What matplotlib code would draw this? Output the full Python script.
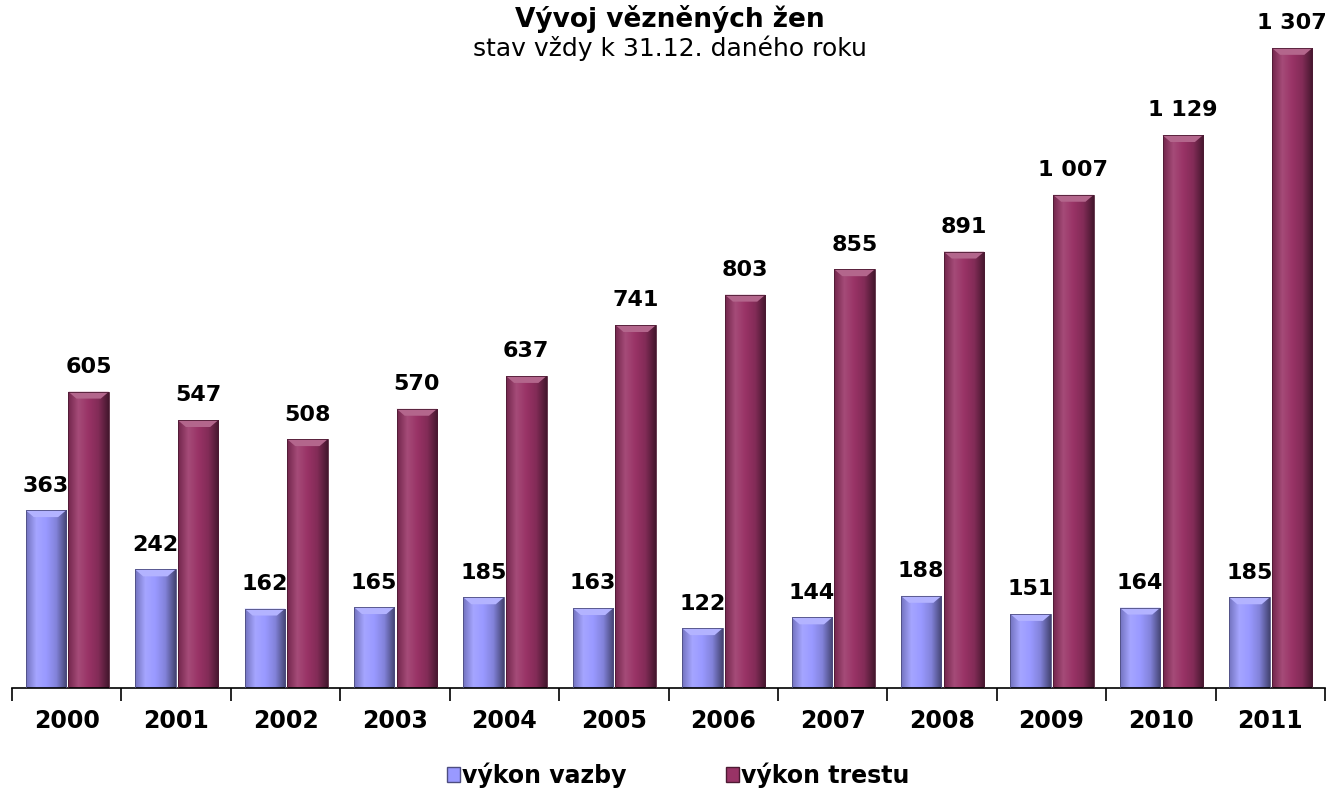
import numpy as np
import matplotlib.pyplot as plt
from matplotlib.colors import LinearSegmentedColormap, to_rgb
from matplotlib.patches import Rectangle

# data
roky = ['2000', '2001', '2002', '2003', '2004', '2005',
        '2006', '2007', '2008', '2009', '2010', '2011']
vazba = [363, 242, 162, 165, 185, 163, 122, 144, 188, 151, 164, 185]
trest = [605, 547, 508, 570, 637, 741, 803, 855, 891, 1007, 1129, 1307]

modra = '#9999ff'
vinova = '#993366'


def shade(c, f):
    r = np.array(to_rgb(c))
    if f > 1:
        return tuple(r + (1 - r) * (f - 1))
    return tuple(r * f)


def glossy_bar(ax, x0, w, h, color):
    # horizontal gradient to fake the excel 3d look
    cmap = LinearSegmentedColormap.from_list(
        'g', [shade(color, 0.75), shade(color, 1.12), color,
              shade(color, 0.85), shade(color, 0.45)])
    grad = np.linspace(0, 1, 64).reshape(1, -1)
    im = ax.imshow(grad, cmap=cmap, aspect='auto',
                   extent=(x0, x0 + w, 0, h), zorder=2)
    clip = Rectangle((x0, 0), w, h, transform=ax.transData)
    im.set_clip_path(clip)
    # light bevel on top
    ax.fill([x0, x0 + w, x0 + w * 0.8, x0 + w * 0.2],
            [h, h, h - 14, h - 14],
            color=shade(color, 1.25), zorder=3, lw=0)
    ax.add_patch(Rectangle((x0, 0), w, h, fill=False,
                           ec=shade(color, 0.5), lw=0.6, zorder=4))


def fmt(v):
    return f'{v:,}'.replace(',', ' ')


fig = plt.figure(figsize=(13.35, 8), dpi=100)
ax = fig.add_axes([0.009, 0.14, 0.9835, 0.86])

x = np.arange(len(roky))
bw = 0.37
for i in x:
    glossy_bar(ax, i - bw - 0.005, bw, vazba[i], modra)
    glossy_bar(ax, i + 0.015, bw, trest[i], vinova)
    ax.text(i - bw / 2 - 0.005, vazba[i] + 30, fmt(vazba[i]),
            ha='center', va='bottom', fontsize=16, fontweight='bold')
    ax.text(i + 0.015 + bw / 2, trest[i] + 30, fmt(trest[i]),
            ha='center', va='bottom', fontsize=16, fontweight='bold')

ax.set_xlim(-0.5, len(roky) - 0.5)
ax.set_ylim(0, 1405)
for s in ['top', 'right', 'left']:
    ax.spines[s].set_visible(False)
ax.spines['bottom'].set_linewidth(1.2)
ax.set_yticks([])
ax.set_xticks(np.arange(-0.5, len(roky), 1))
ax.set_xticklabels([])
ax.tick_params(axis='x', direction='out', length=9, width=1.2)
ax.set_xticks(x, minor=True)
ax.set_xticklabels(roky, minor=True, fontsize=17, fontweight='bold')
ax.tick_params(axis='x', which='minor', length=0, pad=15)

fig.text(0.502, 0.976, 'Vývoj vězněných žen', ha='center', va='center',
         fontsize=19, fontweight='bold')
fig.text(0.502, 0.94, 'stav vždy k 31.12. daného roku', ha='center',
         va='center', fontsize=18)

# legend
h1 = plt.Rectangle((0, 0), 1, 1, fc=modra, ec=shade(modra, 0.5))
h2 = plt.Rectangle((0, 0), 1, 1, fc=vinova, ec=shade(vinova, 0.5))
fig.legend([h1, h2], ['výkon vazby', 'výkon trestu'], loc='center',
           bbox_to_anchor=(0.508, 0.031), ncol=2, frameon=False,
           prop={'size': 17, 'weight': 'bold'}, handlelength=0.55,
           handleheight=0.55, handletextpad=0.1, columnspacing=4.2)

fig.savefig('out.png', dpi=100)
